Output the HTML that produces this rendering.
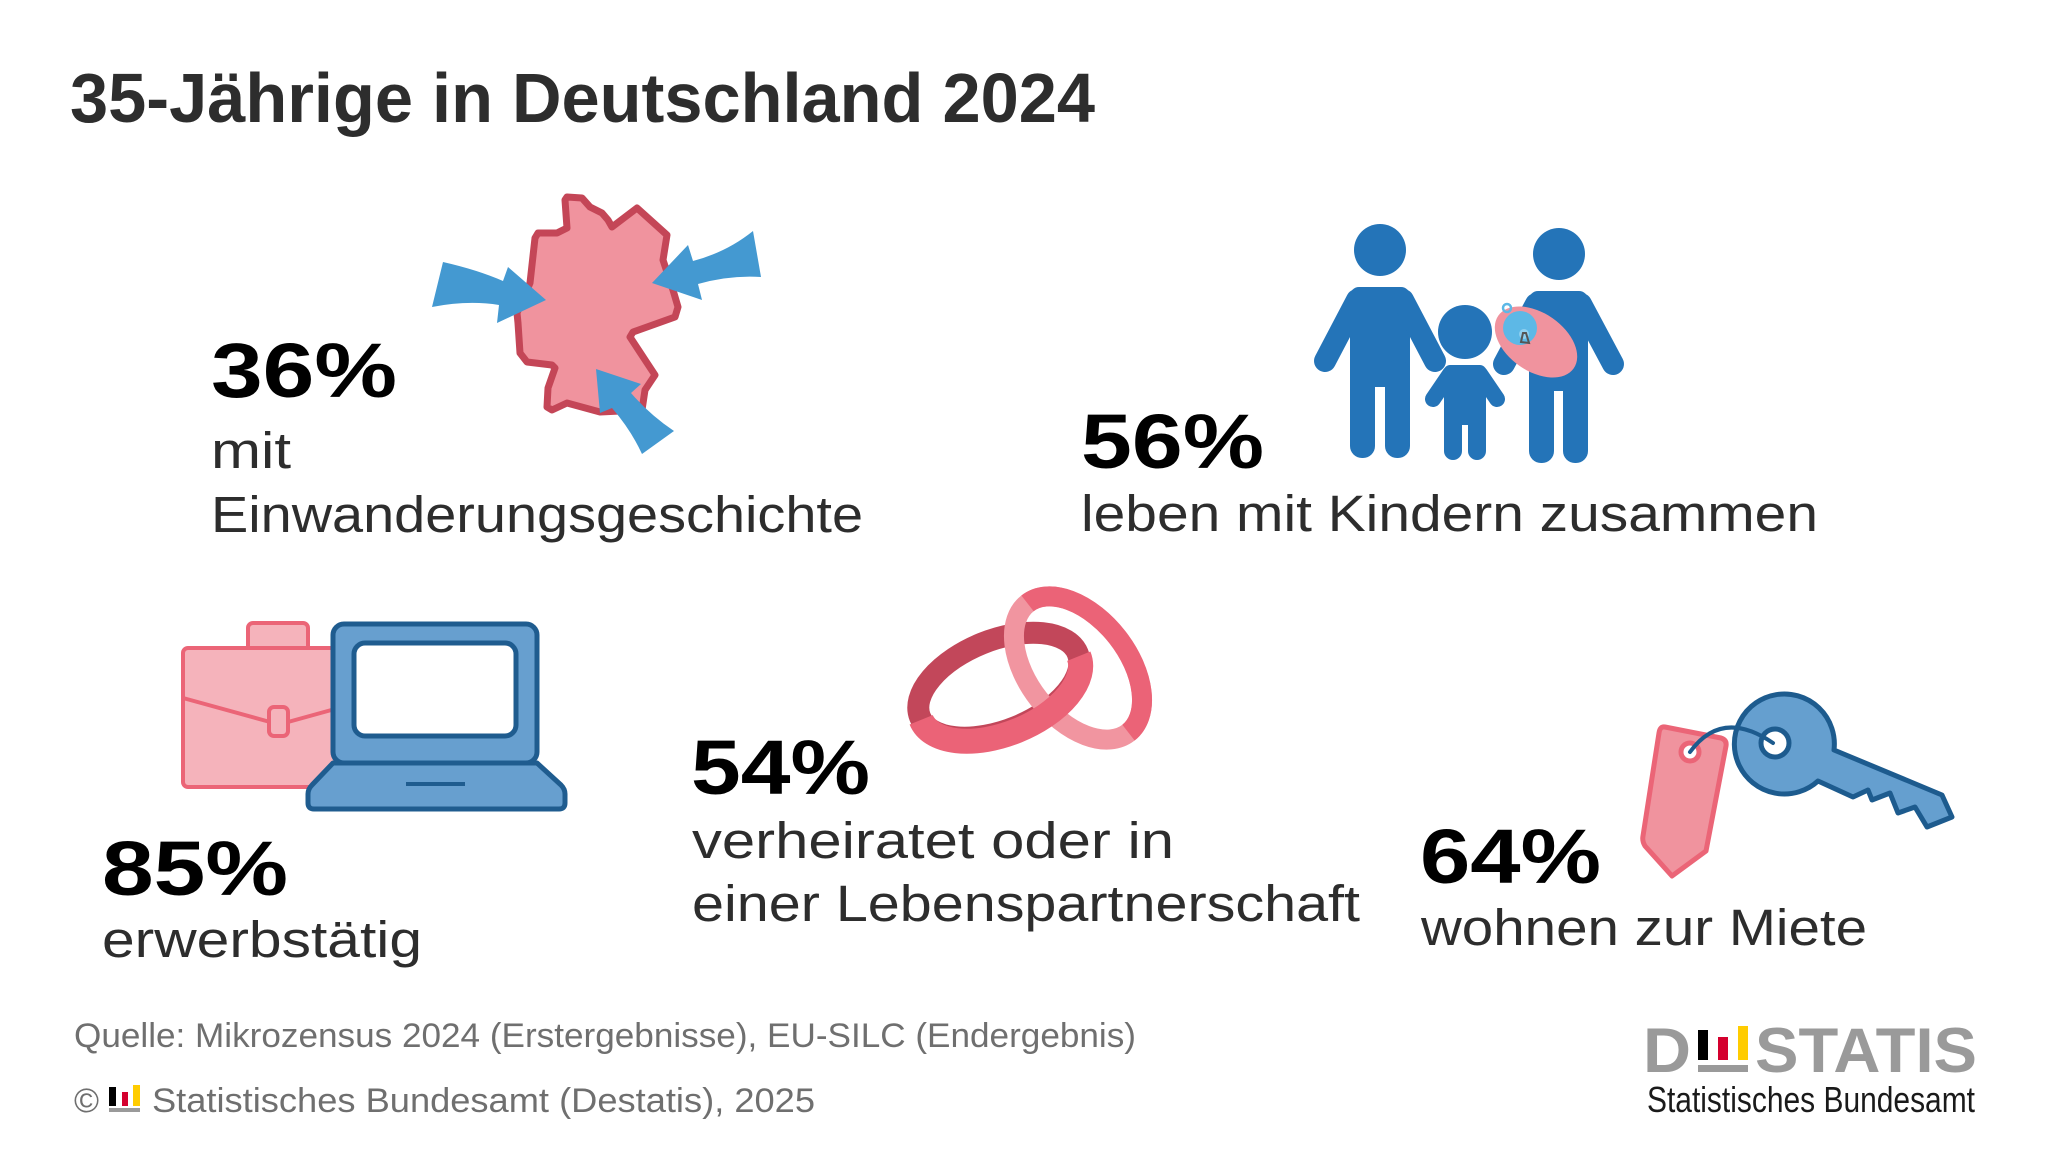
<!DOCTYPE html>
<html>
<head>
<meta charset="utf-8">
<style>
  html,body{margin:0;padding:0;background:#fff;}
  svg{display:block;}
  text{font-family:"Liberation Sans", Arial, sans-serif;}
</style>
</head>
<body>
<svg width="2049" height="1153" viewBox="0 0 2049 1153" xmlns="http://www.w3.org/2000/svg">
  <rect x="0" y="0" width="2049" height="1153" fill="#fff"/>

  <!-- Title -->
  <text x="70" y="122" font-size="70" font-weight="bold" fill="#2d2d2d" textLength="1025" lengthAdjust="spacingAndGlyphs">35-Jährige in Deutschland 2024</text>

  <!-- Germany map -->
  <path d="M565,200 L567,197 L582,198 L590,207 L602,213 L608,220 L612,227 L637,208 L667,235 L663,260 L673,290 L678,307 L675,317 L633,332 L630,337 L655,375 L645,390 L642,410 L600,412 L567,403 L552,410 L547,407 L548,388 L555,368 L552,365 L527,362 L520,353 L518,323 L517,313 L530,283 L535,238 L538,233 L557,233 L567,228 Z" fill="#f0939e" stroke="#c44657" stroke-width="7" stroke-linejoin="round"/>
  <!-- arrows -->
  <path d="M443,262 Q478,270 503,281 L508,267 L546,300 L497,323 L499,305 Q468,300 432,307 Z" fill="#4499d1"/>
  <path d="M753,231 Q727,252 693,261 L688,245 L652,283 L702,300 L698,284 Q730,275 761,277 Z" fill="#4499d1"/>
  <path d="M596,369 L641,384 L631,393 Q650,415 674,431 L642,454 Q631,430 612,408 L600,413 Z" fill="#4499d1"/>

  <!-- 36% block -->
  <text x="211" y="397" font-size="77" font-weight="bold" fill="#000" textLength="186" lengthAdjust="spacingAndGlyphs">36%</text>
  <text x="211" y="468" font-size="51" fill="#2d2d2d" textLength="80" lengthAdjust="spacingAndGlyphs">mit</text>
  <text x="211" y="532" font-size="51" fill="#2d2d2d" textLength="652" lengthAdjust="spacingAndGlyphs">Einwanderungsgeschichte</text>

  <!-- Family -->
  <g fill="#2474b8" stroke="none">
    <circle cx="1380" cy="250" r="26"/>
    <rect x="1350" y="287" width="60" height="100" rx="9"/>
    <rect x="1350" y="360" width="25" height="98" rx="12"/>
    <rect x="1385" y="360" width="25" height="98" rx="12"/>
    <circle cx="1559" cy="254" r="26"/>
    <rect x="1529" y="291" width="59" height="100" rx="9"/>
    <rect x="1529" y="365" width="25" height="98" rx="12"/>
    <rect x="1563" y="365" width="25" height="98" rx="12"/>
    <circle cx="1465" cy="332" r="27"/>
    <rect x="1444" y="365" width="42" height="60" rx="6"/>
    <rect x="1444" y="405" width="18" height="55" rx="9"/>
    <rect x="1468" y="405" width="18" height="55" rx="9"/>
  </g>
  <g stroke="#2474b8" stroke-linecap="round" fill="none">
    <line x1="1357" y1="300" x2="1325" y2="361" stroke-width="22"/>
    <line x1="1403" y1="300" x2="1435" y2="361" stroke-width="22"/>
    <line x1="1536" y1="304" x2="1504" y2="364" stroke-width="22"/>
    <line x1="1581" y1="304" x2="1613" y2="364" stroke-width="22"/>
    <line x1="1450" y1="374" x2="1433" y2="399" stroke-width="16"/>
    <line x1="1480" y1="374" x2="1497" y2="399" stroke-width="16"/>
  </g>
  <!-- baby -->
  <ellipse cx="1536" cy="342" rx="46" ry="29" transform="rotate(35 1536 342)" fill="#f0939e"/>
  <circle cx="1520" cy="328" r="17" fill="#5db8e6"/>
  <circle cx="1507" cy="308" r="4" fill="none" stroke="#5db8e6" stroke-width="2.5"/>
  <circle cx="1524" cy="334" r="5" fill="#8fd0f0"/>
  <path d="M1523,333 L1521,342 L1529,343 L1526,333 Z" fill="none" stroke="#555" stroke-width="2"/>

  <!-- 56% block -->
  <text x="1081" y="468" font-size="77" font-weight="bold" fill="#000" textLength="183" lengthAdjust="spacingAndGlyphs">56%</text>
  <text x="1081" y="531" font-size="51" fill="#2d2d2d" textLength="737" lengthAdjust="spacingAndGlyphs">leben mit Kindern zusammen</text>

  <!-- Briefcase -->
  <rect x="248" y="623" width="60" height="32" rx="5" fill="#f5b3bb" stroke="#eb6577" stroke-width="4"/>
  <rect x="183" y="648" width="160" height="139" rx="5" fill="#f5b3bb" stroke="#eb6577" stroke-width="4"/>
  <path d="M183,698 L270,722 M288,722 L335,709" stroke="#eb6577" stroke-width="4" fill="none"/>
  <rect x="269" y="707" width="19" height="29" rx="5" fill="#f5b3bb" stroke="#eb6577" stroke-width="4"/>
  <!-- Laptop -->
  <rect x="333" y="624" width="204" height="139" rx="11" fill="#679fcf" stroke="#1f5c8f" stroke-width="5"/>
  <rect x="354" y="643" width="162" height="93" rx="11" fill="#fff" stroke="#1f5c8f" stroke-width="5"/>
  <path d="M333,763 L537,763 L561,785 Q565,789 565,794 L565,803 Q565,809 559,809 L314,809 Q308,809 308,803 L308,794 Q308,789 312,785 Z" fill="#679fcf" stroke="#1f5c8f" stroke-width="5" stroke-linejoin="round"/>
  <line x1="406" y1="784" x2="465" y2="784" stroke="#1f5c8f" stroke-width="4"/>

  <!-- 85% block -->
  <text x="102" y="895" font-size="77" font-weight="bold" fill="#000" textLength="186" lengthAdjust="spacingAndGlyphs">85%</text>
  <text x="102" y="957" font-size="51" fill="#2d2d2d" textLength="320" lengthAdjust="spacingAndGlyphs">erwerbstätig</text>

  <!-- Rings -->
  <g transform="translate(1000,688) rotate(-22)">
    <ellipse cx="0" cy="-3" rx="85" ry="45" fill="none" stroke="#c2475a" stroke-width="22"/>
  </g>
  <g transform="translate(1078,668) rotate(52)">
    <ellipse cx="0" cy="0" rx="82" ry="50" fill="none" stroke="#f195a0" stroke-width="20"/>
    <path d="M-82,0 A82,50 0 0 1 82,0" fill="none" stroke="#eb6377" stroke-width="20"/>
  </g>
  <g transform="translate(1000,688) rotate(-22)">
    <path d="M-85,0 A85,46 0 0 0 85,0" fill="none" stroke="#eb6377" stroke-width="25"/>
  </g>

  <!-- 54% block -->
  <text x="691" y="794" font-size="77" font-weight="bold" fill="#000" textLength="179" lengthAdjust="spacingAndGlyphs">54%</text>
  <text x="692" y="858" font-size="51" fill="#2d2d2d" textLength="482" lengthAdjust="spacingAndGlyphs">verheiratet oder in</text>
  <text x="692" y="921" font-size="51" fill="#2d2d2d" textLength="668" lengthAdjust="spacingAndGlyphs">einer Lebenspartnerschaft</text>

  <!-- Tag -->
  <path d="M1665,727 L1721,738 Q1727,740 1726,746 L1706,851 L1672,876 L1645,846 Q1642,841 1643,836 L1659,733 Q1660,726 1665,727 Z" fill="#f0939e" stroke="#eb6577" stroke-width="5" stroke-linejoin="round"/>
  <circle cx="1690" cy="752" r="9" fill="#fff" stroke="#eb6577" stroke-width="5"/>
  <!-- Key -->
  <path d="M1834,750 L1942,795 L1952,817 L1927,827 L1915,807 L1898,813 L1890,793 L1872,800 L1868,790 L1853,797 L1818,781 A50,50 0 1 1 1834,750 Z" fill="#659fcf" stroke="#1d5b8e" stroke-width="5" stroke-linejoin="round"/>
  <circle cx="1775" cy="743" r="14" fill="#fff" stroke="#1d5b8e" stroke-width="5"/>
  <path d="M1690,752 Q1722,708 1773,743" fill="none" stroke="#1d5b8e" stroke-width="4" stroke-linecap="round"/>

  <!-- 64% block -->
  <text x="1420" y="883" font-size="77" font-weight="bold" fill="#000" textLength="181" lengthAdjust="spacingAndGlyphs">64%</text>
  <text x="1421" y="945" font-size="51" fill="#2d2d2d" textLength="446" lengthAdjust="spacingAndGlyphs">wohnen zur Miete</text>

  <!-- Footer -->
  <text x="74" y="1047" font-size="34" fill="#6f6f6f" textLength="1062" lengthAdjust="spacingAndGlyphs">Quelle: Mikrozensus 2024 (Erstergebnisse), EU-SILC (Endergebnis)</text>
  <text x="74" y="1112" font-size="34" fill="#6f6f6f">©</text>
  <rect x="109" y="1087" width="7" height="19" fill="#000"/>
  <rect x="122" y="1092" width="6" height="14" fill="#d4002e"/>
  <rect x="133" y="1085" width="7" height="21" fill="#ffcc00"/>
  <rect x="109" y="1108" width="31" height="4" fill="#9a9a9a"/>
  <text x="152" y="1112" font-size="34" fill="#6f6f6f" textLength="663" lengthAdjust="spacingAndGlyphs">Statistisches Bundesamt (Destatis), 2025</text>

  <!-- Destatis logo -->
  <text x="1643" y="1072" font-size="63" font-weight="bold" fill="#9a9a9a" textLength="48" lengthAdjust="spacingAndGlyphs">D</text>
  <rect x="1698" y="1030" width="10" height="30" fill="#000"/>
  <rect x="1718" y="1037" width="10" height="23" fill="#d4002e"/>
  <rect x="1738" y="1026" width="10" height="34" fill="#ffcc00"/>
  <rect x="1698" y="1065" width="50" height="7" fill="#9a9a9a"/>
  <text x="1755" y="1072" font-size="63" font-weight="bold" fill="#9a9a9a" textLength="222" lengthAdjust="spacingAndGlyphs">STATIS</text>
  <text x="1647" y="1112" font-size="36" fill="#1a1a1a" textLength="328" lengthAdjust="spacingAndGlyphs">Statistisches Bundesamt</text>
</svg>
</body>
</html>
